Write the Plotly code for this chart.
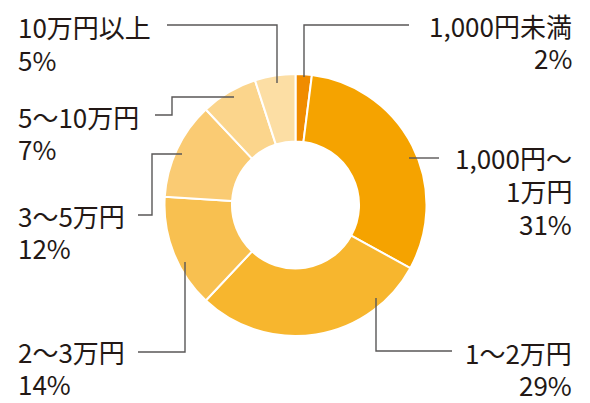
import plotly.graph_objects as go

# ---- data ----
categories = ["1,000円未満", "1,000円〜1万円", "1〜2万円", "2〜3万円", "3〜5万円", "5〜10万円", "10万円以上"]
name_lines = [["1,000円未満"], ["1,000円〜", "1万円"], ["1〜2万円"], ["2〜3万円"],
              ["3〜5万円"], ["5〜10万円"], ["10万円以上"]]
values = [2, 31, 29, 14, 12, 7, 5]
colors = ["#F08C00", "#F5A300", "#F7B62E", "#F8C050", "#FACB73", "#FBD58C", "#FCDEA4"]

W, H = 590, 403
TEXT = "#231815"
LINE = "#595757"
FONT = "Noto Sans CJK JP"

def px(x):
    return x / W

def py(y):
    return 1 - y / H

fig = go.Figure(go.Pie(
    labels=categories,
    values=values,
    sort=False,
    direction="clockwise",
    rotation=0,
    hole=0.485,
    marker=dict(colors=colors, line=dict(color="white", width=2)),
    textinfo="none",
    hoverinfo="none",
    showlegend=False,
    domain=dict(x=[px(164), px(427)], y=[py(336), py(74)]),
))

# label layout: x, anchor, and the centre y of each text line (pixels)
label_x = [574, 574, 574, 16, 16, 16, 16]
label_anchor = ["right", "right", "right", "left", "left", "left", "left"]
label_line_y = [[25, 57], [158, 191, 223], [352, 384], [351, 383],
                [215, 247], [116, 148], [27, 60]]

# leader line polylines in pixels
leaders = [
    [(304, 77), (304, 25), (409, 25)],
    [(409, 158), (439, 158)],
    [(376, 298), (376, 351), (452, 351)],
    [(185, 262), (185, 352), (138, 352)],
    [(182, 154), (152, 154), (152, 215), (138, 215)],
    [(234, 97), (172, 97), (172, 115), (155, 115)],
    [(277, 83), (277, 25), (167, 25)],
]

for names, v, x, anc, ys in zip(name_lines, values, label_x, label_anchor, label_line_y):
    lines = names + [f"{v}%"]
    for txt, y in zip(lines, ys):
        fig.add_annotation(
            x=px(x), y=py(y), xref="paper", yref="paper",
            text=txt, showarrow=False, xanchor=anc, yanchor="middle",
            align=anc, font=dict(family=FONT, size=26, color=TEXT),
        )

for pts in leaders:
    path = "M " + " L ".join(f"{px(a)},{py(b)}" for a, b in pts)
    fig.add_shape(type="path", path=path, xref="paper", yref="paper",
                  line=dict(color=LINE, width=1.4))

fig.update_layout(
    width=W, height=H,
    margin=dict(l=0, r=0, t=0, b=0),
    paper_bgcolor="white",
    plot_bgcolor="white",
)

fig.write_html("out.html", config={"displayModeBar": False},
               post_script="document.body.style.margin='0';document.body.style.overflow='hidden';")
